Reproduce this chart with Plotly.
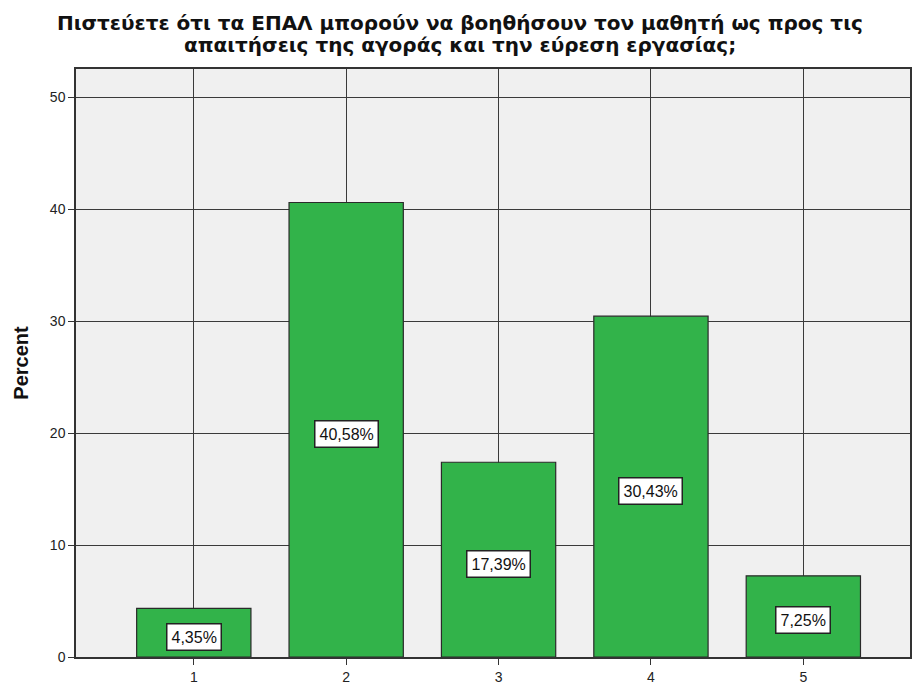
import plotly.graph_objects as go

categories = [1, 2, 3, 4, 5]
percents = [4.35, 40.58, 17.39, 30.43, 7.25]
labels = ["4,35%", "40,58%", "17,39%", "30,43%", "7,25%"]
title_lines = ["Πιστεύετε ότι τα ΕΠΑΛ μπορούν να βοηθήσουν τον μαθητή ως προς τις",
               "απαιτήσεις της αγοράς και την εύρεση εργασίας;"]

PLOT_H = 686 - 69 - 28

fig = go.Figure()
fig.add_trace(go.Bar(
    x=categories, y=percents, width=0.75,
    marker=dict(color="#32b34a", line=dict(color="#2a2a2a", width=1.2)),
    hoverinfo="skip"
))

for c, p, l in zip(categories, percents, labels):
    fig.add_annotation(x=c, y=p / 2, text=l, showarrow=False, yshift=-4,
                       font=dict(family="Liberation Sans, Arial", size=16, color="#111"),
                       bgcolor="white", bordercolor="#222", borderwidth=1.5, borderpad=4)

# title lines (centers at ~y=23 and ~y=45 px from top)
for i, line in enumerate(title_lines):
    ypx = 23 + 22 * i
    fig.add_annotation(xref="paper", yref="paper", x=0.4605, y=1 + (69 - ypx) / PLOT_H,
                       xanchor="center", yanchor="middle", showarrow=False,
                       text="<b>" + line + "</b>",
                       font=dict(family="DejaVu Sans", size=20, color="#111"))

fig.update_layout(
    width=913, height=686,
    margin=dict(l=76, r=1, t=69, b=28),
    paper_bgcolor="white", plot_bgcolor="#f0f0f0",
    showlegend=False,
    xaxis=dict(range=[0.227, 5.70], tickmode="array", tickvals=categories,
               ticktext=[str(c) for c in categories],
               showgrid=True, gridcolor="#3a3a3a", gridwidth=1,
               showline=True, linecolor="#333", linewidth=1.5, mirror=True,
               ticks="outside", ticklen=6, tickcolor="#333",
               tickfont=dict(family="Liberation Sans, Arial", size=14, color="#222"),
               zeroline=False),
    yaxis=dict(range=[0, 52.5], tickvals=[0, 10, 20, 30, 40, 50],
               showgrid=True, gridcolor="#3a3a3a", gridwidth=1,
               showline=True, linecolor="#333", linewidth=1.5, mirror=True,
               ticks="outside", ticklen=6, tickcolor="#333",
               tickfont=dict(family="Liberation Sans, Arial", size=14, color="#222"),
               title=dict(text="<b>Percent</b>", standoff=16,
                          font=dict(family="Liberation Sans, Arial", size=20, color="#111")),
               zeroline=False),
)

fig.write_html("out.html", config={"displayModeBar": False},
               post_script="document.body.style.margin='0';document.body.style.padding='0';")
